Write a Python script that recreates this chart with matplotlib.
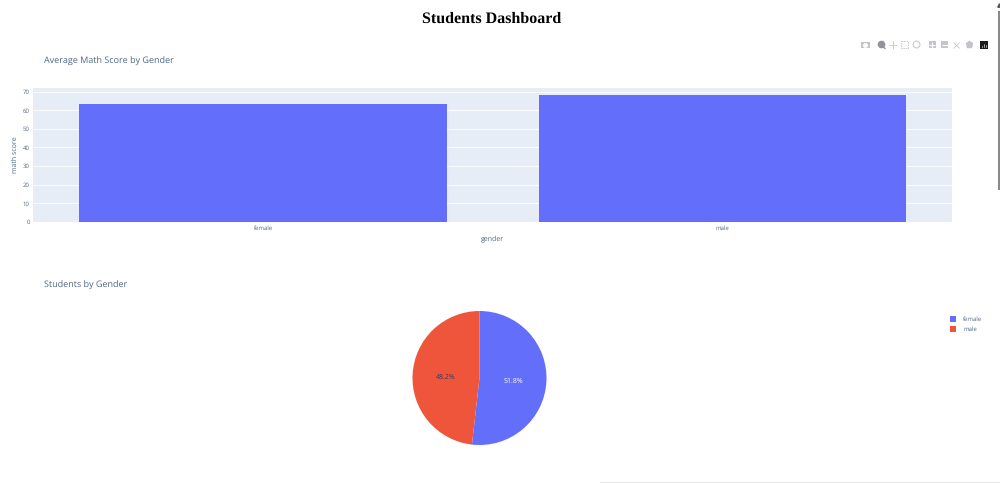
import matplotlib
matplotlib.use("Agg")
import matplotlib.pyplot as plt
from matplotlib.patches import Rectangle

genders = ["female", "male"]
avg_math = [63.2, 68.3]
y_ticks = [0, 10, 20, 30, 40, 50, 60, 70]
student_share = [51.8, 48.2]

BLUE = "#636efa"
RED = "#ef553b"
INK = "#2a3f5f"
GREY = "#506784"
ICON = "#c2c6ca"
W, H = 1000, 483


def box(x0, y0, x1, y1):
    # pixel box (top-left origin) to figure fractions
    return [x0 / W, 1 - y1 / H, (x1 - x0) / W, (y1 - y0) / H]


def add_toolbar(page):
    # plotly modebar icons, roughly
    y = 44.5
    page.add_patch(Rectangle((861, y - 3), 8.5, 6.5, color=ICON, lw=0))
    page.plot(865.2, y + 0.2, "o", ms=2.5, color="white")
    page.plot(880.5, y - 0.5, "o", ms=4.5, color="#8f9397")
    page.plot([882.5, 885], [y + 1.5, y + 4], color="#8f9397", lw=1)
    page.plot(893, y, "+", ms=5.5, mew=0.6, color=ICON)
    page.add_patch(Rectangle((901, y - 3.5), 7, 7, fill=False, ec=ICON, lw=0.6, ls=(0, (2, 1))))
    page.plot(916, y - 1, "o", ms=5, mfc="none", mec=ICON, mew=0.7)
    for x, mark in [(932, "+"), (944.5, "_")]:
        page.add_patch(Rectangle((x - 3.5, y - 3.5), 7, 7, color=ICON, lw=0))
        page.plot(x, y, mark, ms=4, mew=0.8, color="white")
    page.plot(956, y, "x", ms=5, mew=0.6, color=ICON)
    page.plot(968.5, y - 0.5, "p", ms=5, color=ICON)
    page.add_patch(Rectangle((980, y - 4), 8, 8, color="#1c1c1c", lw=0))
    for x, top in [(982, 1.5), (984, 0), (986, 1)]:
        page.plot([x, x], [y + 2.5, y + top - 0.5], color="#d8d8d8", lw=0.5)


plt.rcParams["font.family"] = ["Open Sans", "DejaVu Sans"]
plt.rcParams["text.hinting"] = "no_hinting"
plt.rcParams["text.hinting_factor"] = 1
fig = plt.figure(figsize=(10, 4.83), dpi=100)

fig.text(492 / W, 1 - 18.5 / H, "Students Dashboard", family="Liberation Serif",
         weight="bold", fontsize=11.5, ha="center", va="center", color="black")
fig.text(44 / W, 1 - 61.2 / H, "Average Math Score by Gender", fontsize=6.5, color=GREY,
         va="center")
fig.text(44 / W, 1 - 285 / H, "Students by Gender", fontsize=6.5, color=GREY, va="center")

ax = fig.add_axes(box(33.25, 88, 952.25, 222))
ax.set_facecolor("#e7edf6")
ax.bar(genders, avg_math, width=0.8, color=BLUE, zorder=3)
ax.set_xlim(-0.5, 1.5)
ax.set_ylim(0, 71.9)
ax.set_yticks(y_ticks)
ax.grid(axis="y", color="white", linewidth=0.7, alpha=0.85, zorder=1)
ax.tick_params(length=0, labelsize=4.6, labelcolor=GREY, pad=2.5)
ax.set_xlabel("gender", fontsize=5.4, color=GREY, labelpad=3.5)
ax.set_ylabel("math score", fontsize=5.4, color=GREY, labelpad=3)
for s in ax.spines.values():
    s.set_visible(False)

pie_ax = fig.add_axes(box(412.5, 311, 546.5, 445))
wedges, _, autotexts = pie_ax.pie(student_share, colors=[BLUE, RED], startangle=90,
                                  counterclock=False, radius=1, autopct="%.1f%%",
                                  pctdistance=0.5, wedgeprops={"linewidth": 0})
autotexts[0].set_color("white")
autotexts[1].set_color(INK)
for t in autotexts:
    t.set_fontsize(4.9)
    t.set_y(t.get_position()[1] - 0.012)
pie_ax.set_xlim(-1, 1)
pie_ax.set_ylim(-1, 1)

# overlay in screenshot pixels for legend, modebar and page chrome
page = fig.add_axes([0, 0, 1, 1], facecolor="none")
page.set_xlim(0, W)
page.set_ylim(H, 0)
page.axis("off")

for i, (name, color) in enumerate(zip(genders, [BLUE, RED])):
    y = 318.5 + i * 10
    page.add_patch(Rectangle((950, y - 3), 6, 6, color=color, lw=0))
    page.text(963, y + 0.8, name, fontsize=4.6, color=GREY, va="center")

add_toolbar(page)

page.add_patch(Rectangle((997.5, 11), 2.5, 179, color="#8a8a8a", lw=0))
page.plot(998.5, 4.5, "^", ms=2.5, color="#555555")
page.add_patch(Rectangle((600, 481.5), 400, 1.5, color="#e6e6e6", lw=0))
page.set_xlim(0, W)
page.set_ylim(H, 0)

fig.savefig("out.png", dpi=100)
